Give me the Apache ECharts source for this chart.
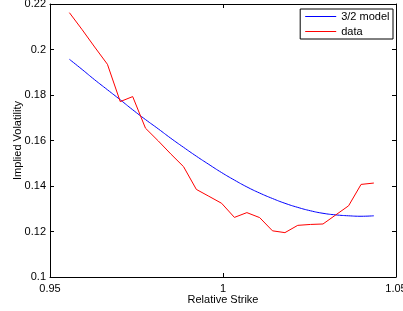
<!DOCTYPE html>
<html>
<head>
<meta charset="utf-8">
<script src="https://cdn.jsdelivr.net/npm/echarts@6/dist/echarts.min.js"></script>
<style>
html,body{margin:0;padding:0;background:#fff;}
#c{width:403px;height:311px;}
</style>
</head>
<body>
<div id="c"></div>
<script>
// Relative strikes (shared grid for both series)
var strikes = [0.9556, 0.9593, 0.9629, 0.9666, 0.9703, 0.9739, 0.9776, 0.9813, 0.9849, 0.9886,
               0.9923, 0.9959, 0.9996, 1.0033, 1.0069, 1.0106, 1.0143, 1.0179, 1.0216, 1.0253,
               1.0289, 1.0326, 1.0363, 1.0399, 1.0436];
// Market implied volatility ("data")
var marketVol = [0.2162, 0.2087, 0.2011, 0.1935, 0.1771, 0.1793, 0.1654, 0.1598, 0.1541, 0.1485,
                 0.1385, 0.1355, 0.1324, 0.1262, 0.1283, 0.1261, 0.1203, 0.1195, 0.1227, 0.1231,
                 0.1233, 0.1273, 0.1313, 0.1407, 0.1413];
// 3/2 model implied volatility
var modelVol = [0.1957, 0.1912, 0.1867, 0.1823, 0.1779, 0.1735, 0.1692, 0.1651, 0.1610, 0.1570,
                0.1531, 0.1495, 0.1459, 0.1426, 0.1396, 0.1369, 0.1345, 0.1324, 0.1306, 0.1291,
                0.1280, 0.1273, 0.1269, 0.1267, 0.1269];
var seriesNames = ['3/2 model', 'data'];
var xTicks = {min: 0.95, max: 1.05, interval: 0.05};
var yTicks = {min: 0.1, max: 0.22, interval: 0.02};

function pairs(xs, ys){ return xs.map(function(x,i){ return [x, ys[i]]; }); }
function fmt(v){ return String(+(+v).toFixed(2)); }

var FONT = '"Liberation Sans", Arial, Helvetica, sans-serif';
var chart = echarts.init(document.getElementById('c'), null, {renderer: 'canvas'});

function xAx(pos, labels){
  return {
    type: 'value', position: pos, min: xTicks.min, max: xTicks.max, interval: xTicks.interval,
    name: labels ? 'Relative Strike' : '', nameLocation: 'middle', nameGap: 17, nameMoveOverlap: false,
    nameTextStyle: {color: '#000', fontSize: 11, fontFamily: FONT},
    axisLine: {show: true, onZero: false, lineStyle: {color: '#000', width: 1}},
    axisTick: {show: true, inside: true, length: 4, lineStyle: {color: '#000'}},
    axisLabel: {show: labels, color: '#000', fontSize: 11, fontFamily: FONT, margin: 6, formatter: fmt,
                alignMinLabel: 'center', alignMaxLabel: 'center'},
    splitLine: {show: false}
  };
}
function yAx(pos, labels){
  return {
    type: 'value', position: pos, min: yTicks.min, max: yTicks.max, interval: yTicks.interval,
    name: labels ? 'Implied Volatility' : '', nameLocation: 'middle', nameGap: 27, nameMoveOverlap: false,
    nameTextStyle: {color: '#000', fontSize: 11, fontFamily: FONT},
    axisLine: {show: true, onZero: false, lineStyle: {color: '#000', width: 1}},
    axisTick: {show: true, inside: true, length: 4, lineStyle: {color: '#000'}},
    axisLabel: {show: labels, color: '#000', fontSize: 11, fontFamily: FONT, margin: 4, formatter: fmt},
    splitLine: {show: false}
  };
}

chart.setOption({
  animation: false,
  backgroundColor: '#fff',
  grid: {left: 50, right: 7, top: 4, bottom: 34, containLabel: false, outerBoundsMode: 'none'},
  xAxis: [xAx('bottom', true), xAx('top', false)],
  yAxis: [yAx('left', true), yAx('right', false)],
  legend: {
    data: seriesNames, orient: 'vertical', right: 10, top: 9,
    icon: 'rect', itemWidth: 31, itemHeight: 1, itemGap: 2,
    padding: [1, 3.5, 1, 5],
    backgroundColor: '#fff', borderColor: '#000', borderWidth: 1, borderRadius: 0,
    textStyle: {color: '#000', fontSize: 11, fontFamily: FONT, lineHeight: 13}
  },
  series: [
    {name: seriesNames[0], type: 'line', data: pairs(strikes, modelVol), smooth: true,
     symbol: 'none', lineStyle: {color: '#0000ff', width: 1}, itemStyle: {color: '#0000ff'}},
    {name: seriesNames[1], type: 'line', data: pairs(strikes, marketVol),
     symbol: 'none', lineStyle: {color: '#ff0000', width: 1}, itemStyle: {color: '#ff0000'}}
  ]
});
</script>
</body>
</html>
